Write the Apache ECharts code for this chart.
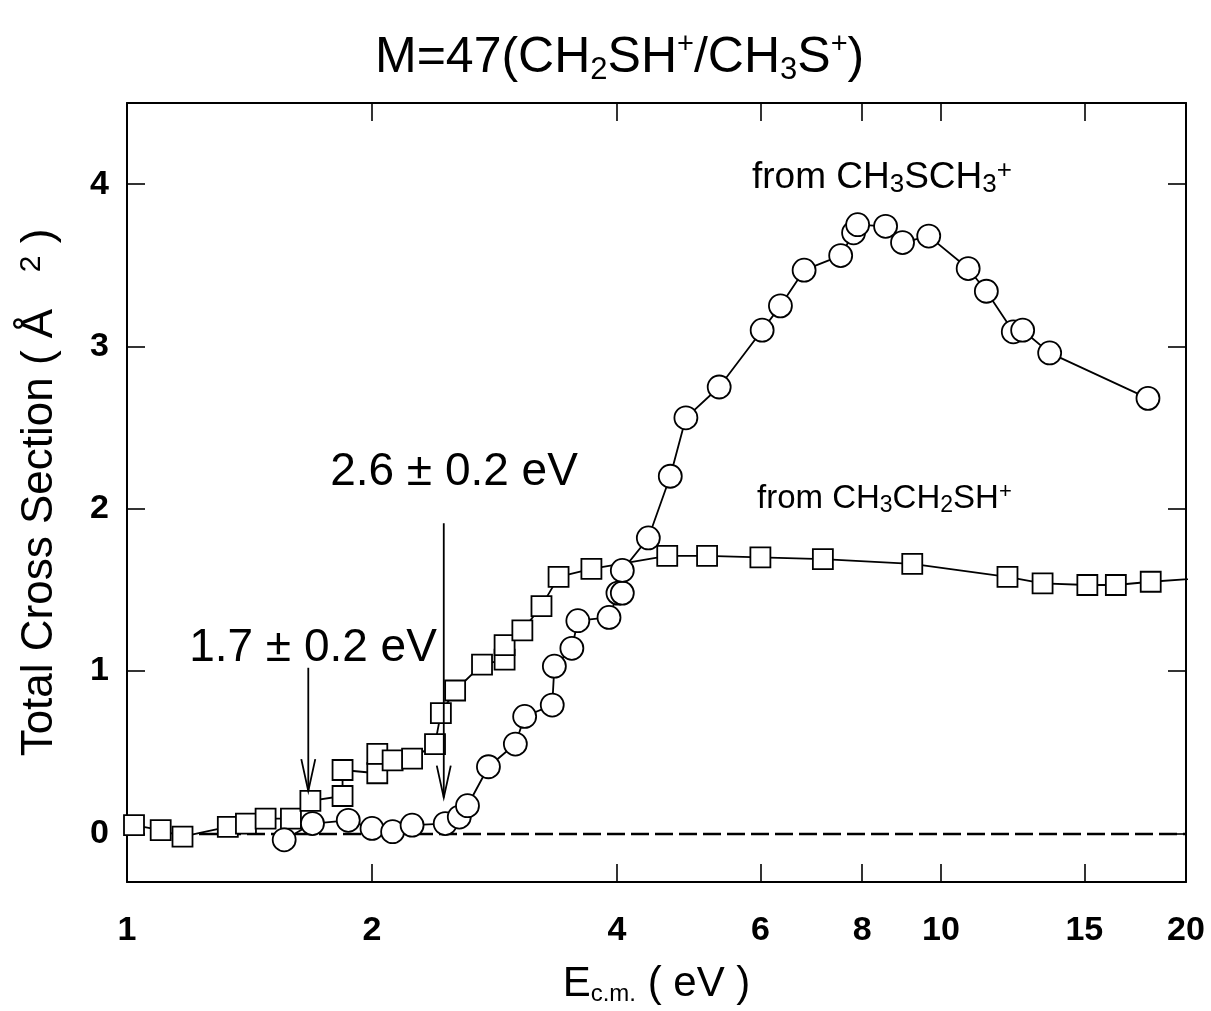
<!DOCTYPE html>
<html>
<head>
<meta charset="utf-8">
<script src="https://cdn.jsdelivr.net/npm/echarts@6/dist/echarts.min.js"></script>
<style>
  html, body { margin: 0; padding: 0; background: #fff; }
  #chart { width: 1211px; height: 1011px; }
</style>
</head>
<body>
<div id="chart"></div>
<script>
// from CH3CH2SH+ (squares)
const sqEnergy = [1.02, 1.10, 1.17, 1.33, 1.40, 1.48, 1.59, 1.68, 1.84, 1.84, 2.03, 2.03, 2.12, 2.24,
  2.39, 2.43, 2.53, 2.73, 2.91, 2.91, 3.06, 3.23, 3.39, 3.72, 4.61, 5.16, 6.0, 7.16, 9.22,
  12.07, 13.33, 15.13, 16.4, 18.1, 22]
const sqCross = [0.05, 0.02, -0.02, 0.04, 0.06, 0.09, 0.09, 0.20, 0.23, 0.39, 0.37, 0.49, 0.45, 0.46,
  0.55, 0.74, 0.88, 1.04, 1.07, 1.16, 1.25, 1.40, 1.58, 1.63, 1.71, 1.71, 1.70, 1.69, 1.66,
  1.58, 1.54, 1.53, 1.53, 1.55, 1.58]

// from CH3SCH3+ (circles)
const ciEnergy = [1.56, 1.69, 1.87, 2.00, 2.12, 2.24, 2.46, 2.56, 2.62, 2.78, 3.00, 3.08, 3.33, 3.35,
  3.52, 3.58, 3.91, 4.01, 4.06, 4.06, 4.37, 4.65, 4.86, 5.34, 6.03, 6.35, 6.79, 7.53, 7.81,
  7.90, 8.55, 8.97, 9.66, 10.8, 11.37, 12.27, 12.6, 13.6, 17.96]
const ciCross = [-0.04, 0.06, 0.08, 0.03, 0.01, 0.05, 0.06, 0.10, 0.17, 0.41, 0.55, 0.72, 0.79, 1.03,
  1.14, 1.31, 1.33, 1.48, 1.48, 1.62, 1.82, 2.20, 2.56, 2.75, 3.10, 3.25, 3.47, 3.56, 3.70,
  3.75, 3.74, 3.64, 3.68, 3.48, 3.34, 3.09, 3.10, 2.96, 2.68]

// threshold arrows: energy, top of shaft, tip
const arrowEnergy = [1.67, 2.45]
const arrowTop = [1.02, 1.91]
const arrowTip = [0.26, 0.22]

const xTickValues = [2, 4, 6, 8, 10, 15]
const xLabelValues = [1, 2, 4, 6, 8, 10, 15, 20]
const yTickValues = [0, 1, 2, 3, 4]

const FONT = "'Liberation Sans', Arial, sans-serif"

const chart = echarts.init(document.getElementById('chart'))

const xAxisBase = {
  type: 'log',
  logBase: 10,
  min: 1,
  max: 20,
  axisLine: { show: true, onZero: false, lineStyle: { color: '#000', width: 2 } },
  axisTick: { show: true, inside: true, length: 18, customValues: xTickValues, lineStyle: { color: '#000', width: 1.6 } },
  minorTick: { show: false },
  splitLine: { show: false },
  minorSplitLine: { show: false }
}
const yAxisBase = {
  type: 'value',
  min: -0.3,
  max: 4.5,
  axisLine: { show: true, onZero: false, lineStyle: { color: '#000', width: 2 } },
  axisTick: { show: true, inside: true, length: 18, customValues: yTickValues, lineStyle: { color: '#000', width: 1.6 } },
  splitLine: { show: false }
}

const markerStyle = { color: '#fff', borderColor: '#000', borderWidth: 1.8 }

const option = {
  animation: false,
  backgroundColor: '#fff',
  title: {
    left: 370,
    top: 25,
    text: '{t|M=47(CH}{sb|2}{t|SH}{sp|+}{t|/CH}{sb|3}{t|S}{sp|+}{t|)}',
    textStyle: {
      rich: {
        t: { fontFamily: FONT, fontSize: 50, fontWeight: 'normal', lineHeight: 56, color: '#000' },
        sb: { fontFamily: FONT, fontSize: 31, fontWeight: 'normal', lineHeight: 30, verticalAlign: 'bottom', color: '#000' },
        sp: { fontFamily: FONT, fontSize: 29, fontWeight: 'normal', lineHeight: 30, verticalAlign: 'top', color: '#000' }
      }
    }
  },
  grid: { left: 127, right: 25, top: 103, bottom: 127, containLabel: false },
  xAxis: [
    Object.assign({}, xAxisBase, {
      position: 'bottom',
      axisLabel: {
        customValues: xLabelValues,
        formatter: v => String(Math.round(v)),
        fontFamily: FONT, fontSize: 34, fontWeight: 'bold', color: '#000', margin: 32
      },
      name: '{e|E}{s|c.m.}{e| ( eV )}',
      nameLocation: 'middle',
      nameGap: 80,
      nameTextStyle: {
        rich: {
          e: { fontFamily: FONT, fontSize: 42, lineHeight: 44, color: '#000' },
          s: { fontFamily: FONT, fontSize: 24, lineHeight: 24, verticalAlign: 'bottom', color: '#000' }
        }
      }
    }),
    Object.assign({}, xAxisBase, { position: 'top', axisLabel: { show: false } })
  ],
  yAxis: [
    Object.assign({}, yAxisBase, {
      position: 'left',
      axisLabel: {
        customValues: yTickValues,
        fontFamily: FONT, fontSize: 34, fontWeight: 'bold', color: '#000', margin: 18
      },
      name: '{a|Total Cross Section ( Å   }{s|2}{a| )}',
      nameLocation: 'middle',
      nameGap: 64,
      nameTextStyle: {
        rich: {
          a: { fontFamily: FONT, fontSize: 44, lineHeight: 46, color: '#000' },
          s: { fontFamily: FONT, fontSize: 30, lineHeight: 30, verticalAlign: 'top', color: '#000' }
        }
      }
    }),
    Object.assign({}, yAxisBase, { position: 'right', axisLabel: { show: false } })
  ],
  series: [
    {
      name: 'from CH3CH2SH+',
      type: 'line',
      data: sqEnergy.map((e, i) => [e, sqCross[i]]),
      symbol: 'rect',
      symbolSize: 20,
      showAllSymbol: true,
      clip: true,
      lineStyle: { color: '#000', width: 1.8 },
      itemStyle: markerStyle,
      z: 3,
      markLine: {
        silent: true,
        symbol: 'none',
        label: { show: false },
        lineStyle: { color: '#000', width: 2.4, type: [18, 6] },
        data: [{ yAxis: 0 }],
        z: 1
      }
    },
    {
      name: 'from CH3SCH3+',
      type: 'line',
      data: ciEnergy.map((e, i) => [e, ciCross[i]]),
      symbol: 'circle',
      symbolSize: 23,
      showAllSymbol: true,
      clip: true,
      lineStyle: { color: '#000', width: 1.8 },
      itemStyle: markerStyle,
      z: 4
    },
    {
      type: 'custom',
      data: arrowEnergy.map((e, i) => [e, arrowTop[i], arrowTip[i]]),
      encode: { x: 0, y: [1, 2] },
      z: 6,
      renderItem: (params, api) => {
        const top = api.coord([api.value(0), api.value(1)])
        const tip = api.coord([api.value(0), api.value(2)])
        return {
          type: 'group',
          children: [
            { type: 'line', shape: { x1: top[0], y1: top[1], x2: tip[0], y2: tip[1] },
              style: { stroke: '#000', lineWidth: 1.8 } },
            { type: 'polyline', shape: { points: [[tip[0] - 7, tip[1] - 32], [tip[0], tip[1]], [tip[0] + 7, tip[1] - 32]] },
              style: { stroke: '#000', fill: null, lineWidth: 1.8 } }
          ]
        }
      }
    }
  ],
  graphic: [
    {
      type: 'text', x: 313, y: 648,
      style: { text: '1.7 ± 0.2 eV', font: '46px ' + FONT, fill: '#000', align: 'center', verticalAlign: 'middle' }
    },
    {
      type: 'text', x: 454, y: 472,
      style: { text: '2.6 ± 0.2 eV', font: '46px ' + FONT, fill: '#000', align: 'center', verticalAlign: 'middle' }
    },
    {
      type: 'text', x: 752, y: 158,
      style: {
        text: '{a|from CH}{b|3}{a|SCH}{b|3}{c|+}',
        rich: {
          a: { fontFamily: FONT, fontSize: 37, lineHeight: 40, fill: '#000' },
          b: { fontFamily: FONT, fontSize: 26, lineHeight: 26, verticalAlign: 'bottom', fill: '#000' },
          c: { fontFamily: FONT, fontSize: 26, lineHeight: 26, verticalAlign: 'top', fill: '#000' }
        }
      }
    },
    {
      type: 'text', x: 757, y: 481,
      style: {
        text: '{a|from CH}{b|3}{a|CH}{b|2}{a|SH}{c|+}',
        rich: {
          a: { fontFamily: FONT, fontSize: 33, lineHeight: 36, fill: '#000' },
          b: { fontFamily: FONT, fontSize: 23, lineHeight: 23, verticalAlign: 'bottom', fill: '#000' },
          c: { fontFamily: FONT, fontSize: 22, lineHeight: 23, verticalAlign: 'top', fill: '#000' }
        }
      }
    }
  ]
}

chart.setOption(option)

window.addEventListener('resize', () => {
  chart.resize()
})
</script>
</body>
</html>
